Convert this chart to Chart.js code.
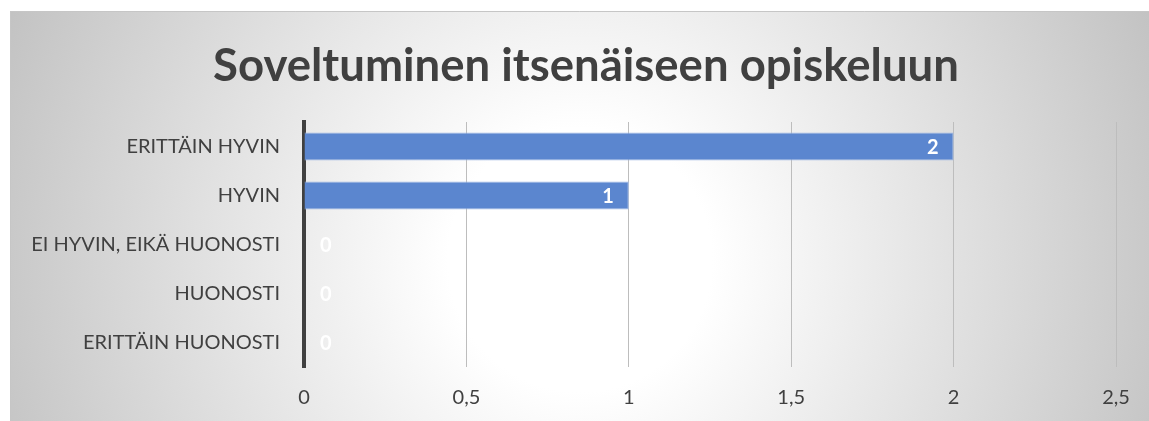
<!DOCTYPE html>
<html>
<head>
<meta charset="utf-8">
<script src="https://cdn.jsdelivr.net/npm/chart.js@4/dist/chart.umd.min.js"></script>
<style>
  html, body { margin: 0; padding: 0; background: #fff; }
  #wrap { position: relative; width: 1149px; height: 421px; }
</style>
</head>
<body>
<div id="wrap"><canvas id="chart"></canvas></div>
<script>
// chart data
const titleText = 'Soveltuminen itsenäiseen opiskeluun';
const categories = ['ERITTÄIN HYVIN', 'HYVIN', 'EI HYVIN, EIKÄ HUONOSTI', 'HUONOSTI', 'ERITTÄIN HUONOSTI'];
const answers = [2, 1, 0, 0, 0];
const xMin = 0;
const xMax = 2.5;
const xStep = 0.5;

const fontFamily = 'Lato, "Open Sans", sans-serif';

// gray radial backdrop behind the whole chart box, plus the title
const backdrop = {
    id: 'backdrop',
    beforeDraw(chart) {
        const ctx = chart.ctx;
        ctx.save();
        ctx.fillStyle = '#ffffff';
        ctx.fillRect(0, 0, chart.width, chart.height);
        const g = ctx.createRadialGradient(580, 260, 0, 580, 260, 660);
        g.addColorStop(0, '#ffffff');
        g.addColorStop(0.2, '#ffffff');
        g.addColorStop(0.95, '#c2c2c2');
        g.addColorStop(1, '#c0c0c0');
        ctx.fillStyle = g;
        ctx.fillRect(10, 11, chart.width - 10, chart.height - 11);
        ctx.strokeStyle = '#c6c6c6';
        ctx.lineWidth = 1;
        ctx.beginPath();
        ctx.moveTo(10.5, chart.height);
        ctx.lineTo(10.5, 11.5);
        ctx.lineTo(chart.width, 11.5);
        ctx.stroke();

        ctx.font = 'bold 45.5px ' + fontFamily;
        ctx.fillStyle = '#404040';
        ctx.textAlign = 'center';
        ctx.textBaseline = 'middle';
        ctx.fillText(titleText, 586, 66);
        ctx.restore();
    }
};

// value labels at the end of each bar
const barLabels = {
    id: 'barLabels',
    afterDatasetsDraw(chart) {
        const ctx = chart.ctx;
        const meta = chart.getDatasetMeta(0);
        ctx.save();
        ctx.font = 'bold 20px ' + fontFamily;
        ctx.fillStyle = '#ffffff';
        ctx.textBaseline = 'middle';
        meta.data.forEach((bar, i) => {
            const v = answers[i];
            if (v === 0) {
                ctx.textAlign = 'left';
                ctx.fillText(String(v), bar.x + 16, bar.y + 1);
            } else {
                ctx.textAlign = 'right';
                ctx.fillText(String(v), bar.x - 15, bar.y + 1);
            }
        });
        ctx.restore();
    }
};

new Chart(document.getElementById('chart'), {
    type: 'bar',
    data: {
        labels: categories,
        datasets: [{
            data: answers,
            backgroundColor: '#5b86cf',
            borderColor: '#9fb8e4',
            borderWidth: 1,
            barPercentage: 0.57,
            categoryPercentage: 1
        }]
    },
    options: {
        indexAxis: 'y',
        responsive: true,
        maintainAspectRatio: false,
        animation: false,
        layout: { padding: { top: 122, right: 33, bottom: 0, left: 0 } },
        plugins: {
            legend: { display: false },
            tooltip: { enabled: false },
            title: { display: false }
        },
        scales: {
            x: {
                min: xMin,
                max: xMax,
                ticks: {
                    stepSize: xStep,
                    color: '#404040',
                    font: { family: fontFamily, size: 20 },
                    padding: 19,
                    callback: v => String(v).replace('.', ',')
                },
                grid: { color: '#bdbdbd', lineWidth: 1, drawTicks: false },
                border: { display: false },
                afterFit(scale) { scale.height = 54; }
            },
            y: {
                ticks: {
                    color: '#404040',
                    font: { family: fontFamily, size: 20 },
                    padding: 24
                },
                grid: { display: false, drawTicks: false },
                border: { display: true, color: '#404040', width: 4 },
                afterFit(scale) { scale.width = 304; }
            }
        }
    },
    plugins: [backdrop, barLabels]
});
</script>
</body>
</html>
